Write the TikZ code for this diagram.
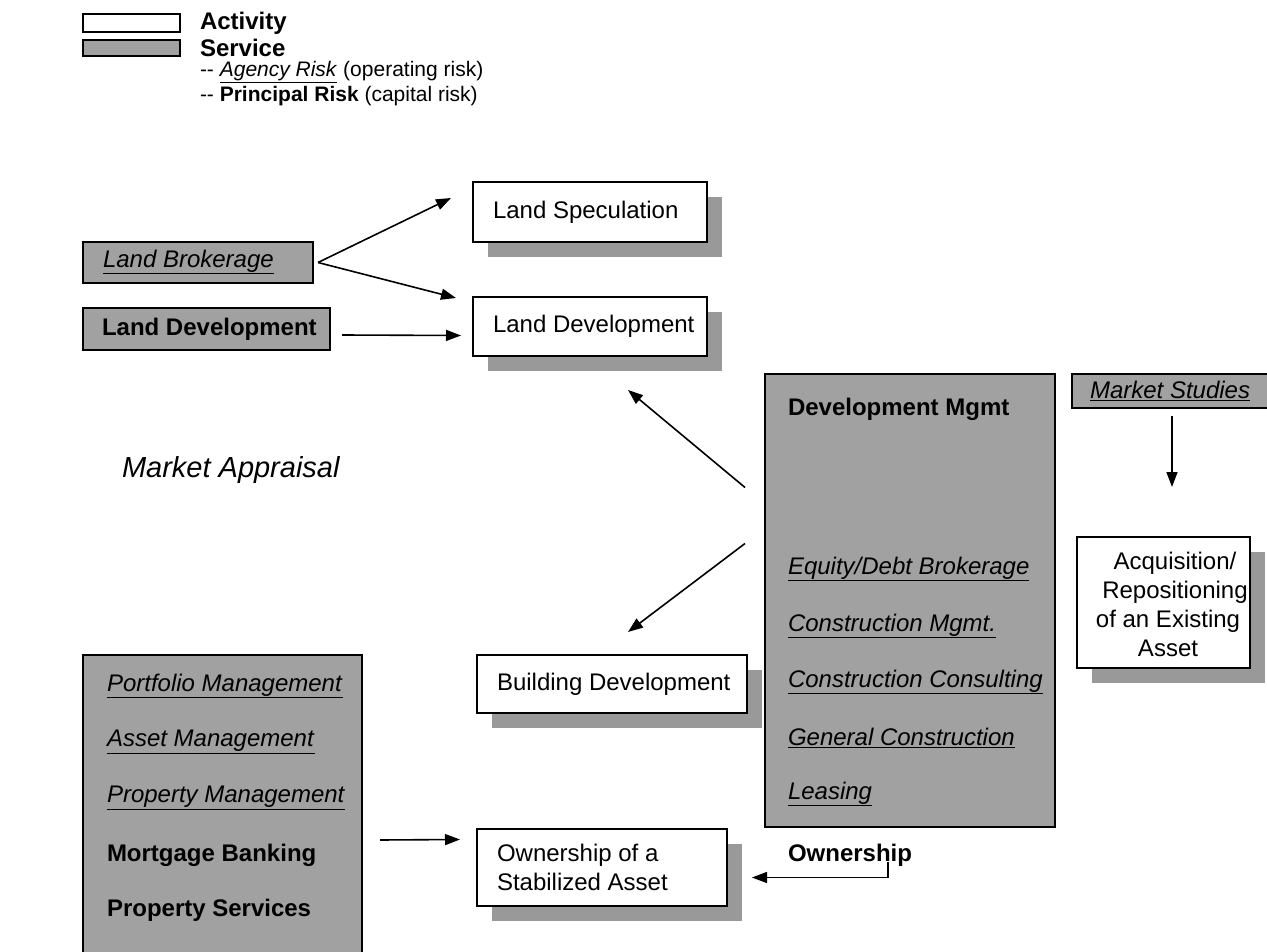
\documentclass[tikz,border=0pt]{standalone}
\usepackage{fontspec}
\setmainfont{Liberation Sans}
\usetikzlibrary{arrows.meta,calc,shadows}

\newcommand{\ulit}[1]{\underline{\textit{#1}}}

\begin{document}
\begin{tikzpicture}[x=1pt,y=-1pt,
  every node/.style={inner sep=0pt, outer sep=0pt},
  tip/.style={-{Triangle[length=15pt,width=11pt]}},
  arr/.style={line width=1.6pt, tip},
  boxline/.style={draw, line width=1.6pt, anchor=north west},
  actbox/.style={boxline, fill=white,
    drop shadow={shadow xshift=15pt, shadow yshift=-15pt, fill=black!40, opacity=1}},
  srvbox/.style={boxline, fill=black!37},
  item/.style={anchor=west, font=\fontsize{24}{29}\selectfont},
  legtxt/.style={anchor=west, font=\fontsize{21}{25}\selectfont},
  legbig/.style={anchor=west, font=\bfseries\fontsize{24}{28}\selectfont},
]
\useasboundingbox (0,0) rectangle (1267,952);

% legend
\node[boxline, fill=white, minimum width=97, minimum height=18] (legact) at (83,14) {};
\node[legbig] (legacttxt) at (200,23) {Activity};
\node[srvbox, minimum width=97, minimum height=16] (legsrv) at (83,40) {};
\node[legbig] (legsrvtxt) at (200,48) {Service};
\node[legtxt] (legagency) at (200,72) {-{}- \ulit{Agency Risk} (operating risk)};
\node[legtxt] (legprincipal) at (200,96) {-{}- \textbf{Principal Risk} (capital risk)};

% activities
\node[actbox, minimum width=234, minimum height=60] (spec) at (473,182) {};
\node[item] (spectxt) at (493,212) {Land Speculation};
\node[actbox, minimum width=234, minimum height=59] (ld) at (473,297) {};
\node[item] (ldtxt) at (493,326) {Land Development};
\node[actbox, minimum width=270, minimum height=58] (bd) at (477,655) {};
\node[item] (bdtxt) at (497,684) {Building Development};
\node[actbox, minimum width=250, minimum height=77] (own) at (477,829) {};
\node[item, align=left] (owntxt) at (497,867) {Ownership of a\\Stabilized Asset};
\node[actbox, minimum width=173, minimum height=131] (acq) at (1077,537) {};
\node[item, anchor=center, align=center] (acqtxt) at (1168,604)
  {\hspace*{14pt}Acquisition/\\\hspace*{14pt}Repositioning\\of an Existing\\Asset};

% services
\node[srvbox, minimum width=230, minimum height=41] (lb) at (83,242) {};
\node[item] (lbtxt) at (103,262) {\ulit{Land Brokerage}};
\node[srvbox, minimum width=247, minimum height=42] (ldsrv) at (83,308) {};
\node[item] (ldsrvtxt) at (102,329) {\textbf{Land Development}};
\node[srvbox, minimum width=196, minimum height=34] (ms) at (1072,374) {};
\node[item] (mstxt) at (1090,391) {\ulit{Market Studies}};

\node[srvbox, minimum width=290, minimum height=453] (dm) at (765,374) {};
\node[item] (dmhead) at (788,409) {\textbf{Development Mgmt}};
\node[item] (dm1) at (788,569) {\ulit{Equity/Debt Brokerage}};
\node[item] (dm2) at (788,626) {\ulit{Construction Mgmt.}};
\node[item] (dm3) at (788,682) {\ulit{Construction Consulting}};
\node[item] (dm4) at (788,738) {\ulit{General Construction}};
\node[item] (dm5) at (788,794) {\ulit{Leasing}};

\node[srvbox, minimum width=279, minimum height=310] (bl) at (83,655) {};
\node[item] (bl1) at (107,686) {\ulit{Portfolio Management}};
\node[item] (bl2) at (107,742) {\ulit{Asset Management}};
\node[item] (bl3) at (107,798) {\ulit{Property Management}};
\node[item] (bl4) at (107,855) {\textbf{Mortgage Banking}};
\node[item] (bl5) at (107,910) {\textbf{Property Services}};

% free labels
\node[anchor=west, font=\itshape\fontsize{29}{34}\selectfont] (ma) at (122,470) {Market Appraisal};
\node[item] (ownlbl) at (788,855) {\textbf{Ownership}};

% connectors
\coordinate (lbout) at ($(lb.east)+(5,0)$);
\draw[arr] (lbout) -- ($(spec.west)+(-22,-14)$);
\draw[arr] (lbout) -- ($(ld.north west)+(-17,1)$);
\draw[arr] ($(ldsrv.east)+(12,6)$) -- ($(ld.west)+(-12,9)$);
\draw[arr] ($(dm.west)+(-20,-113)$) -- ($(ld.south east)+(-79,34)$);
\draw[arr] ($(dm.west)+(-20,-57)$) -- ($(bd.north)+(16,-23)$);
\coordinate (msout) at ($(ms.south)+(2,8)$);
\coordinate (acqin) at ($(acq.north)+(0,-50)$);
\draw[arr] (msout) -- (msout |- acqin);
\coordinate (blout) at ($(bl.north east)+(18,185)$);
\draw[arr] (blout) -- ($(own.west)+(-17,-28)$);
\coordinate (ticktop) at ($(ownlbl.south west)+(100,-4)$);
\coordinate (owntip) at ($(own.east)+(25,10)$);
\draw[line width=1.3pt, tip] (ticktop) -- (ticktop |- owntip) -- (owntip);
\end{tikzpicture}
\end{document}
